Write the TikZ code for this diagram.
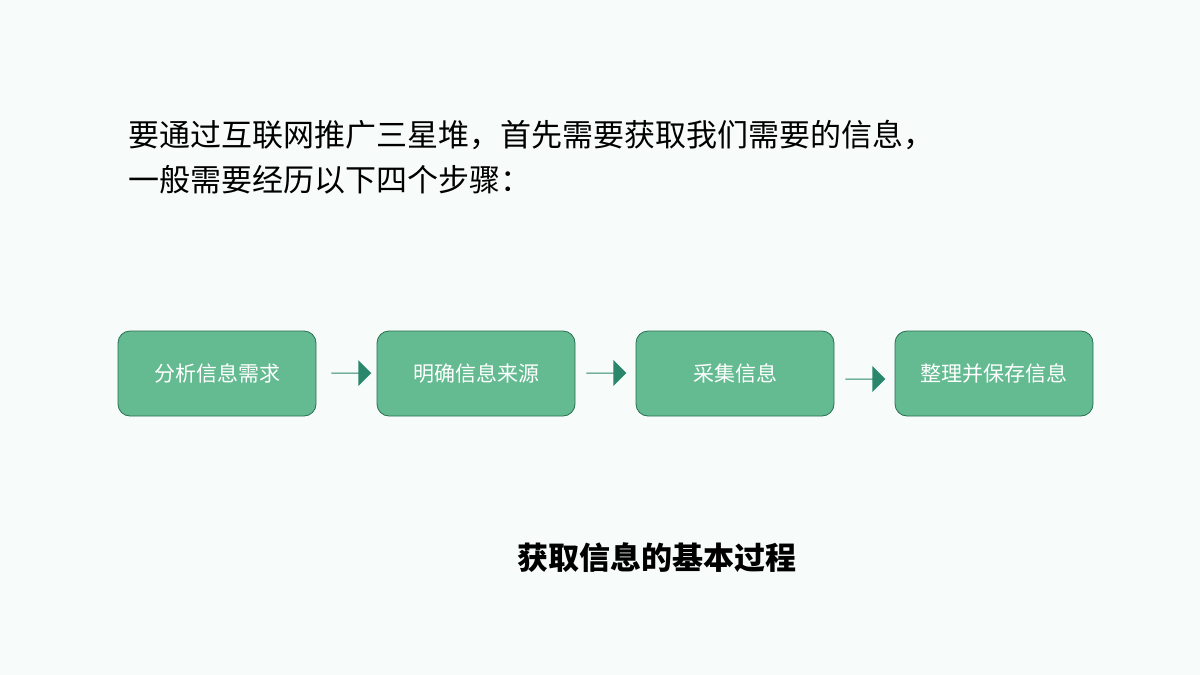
\documentclass[tikz,border=0pt]{standalone}
\usepackage{fontspec}
\setmainfont{Noto Sans CJK SC}
\usetikzlibrary{shapes.arrows,positioning}
\definecolor{bgpaper}{RGB}{247,252,250}
\definecolor{boxgreen}{RGB}{100,187,145}
\definecolor{boxline}{RGB}{40,110,80}
\definecolor{arrowteal}{RGB}{42,135,108}
\tikzset{
  stepbox/.style={draw=boxline, fill=boxgreen, rounded corners=12pt, minimum width=198pt,
    minimum height=85pt, text=white, font=\fontsize{21}{24}\selectfont, line width=0.8pt},
  blockarrow/.style={single arrow, draw=none, fill=arrowteal, minimum width=26pt,
    single arrow head extend=5pt, minimum height=40pt, inner sep=0pt}
}
\begin{document}
\begin{tikzpicture}[x=1pt,y=-1pt]
    \fill[bgpaper] (0,0) rectangle (1200,675);
    \useasboundingbox (0,0) rectangle (1200,675);

    % Title text
    \node[anchor=west, font=\fontsize{31}{36}\selectfont] (title1) at (125,135) {要通过互联网推广三星堆，首先需要获取我们需要的信息，};
    \node[anchor=west, font=\fontsize{31}{36}\selectfont] (title2) at (125,180) {一般需要经历以下四个步骤：};

    % Step boxes
    \node[stepbox] (analyse) at (217,373.5) {分析信息需求};
    \node[stepbox] (source) at (476,373.5) {明确信息来源};
    \node[stepbox] (collect) at (735,373.5) {采集信息};
    \node[stepbox] (store) at (994,373.5) {整理并保存信息};

    % Block arrows
    \node[blockarrow] (arrA) at (351,373) {};
    \node[blockarrow] (arrB) at (606,373) {};
    \node[blockarrow] (arrC) at (865,379) {};

    % Caption
    \node[font=\bfseries\fontsize{31}{36}\selectfont] (caption) at (657,558) {获取信息的基本过程};
\end{tikzpicture}
\end{document}
